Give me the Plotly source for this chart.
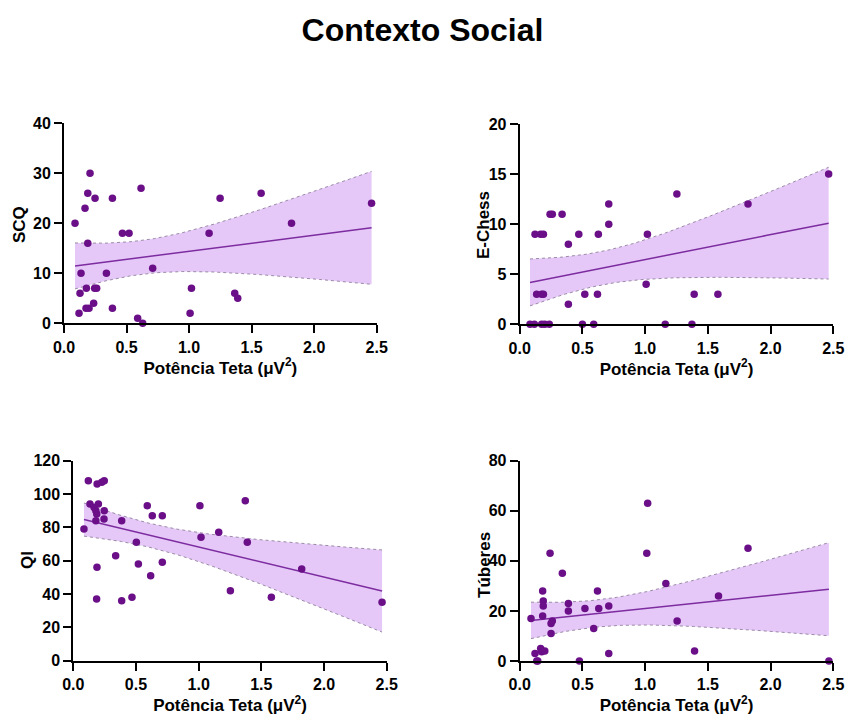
import numpy as np
import plotly.graph_objects as go

# ---------------- data ----------------
scq_x = [0.088, 0.208, 0.19, 0.248, 0.168, 0.387, 0.616, 0.19, 0.467, 0.52,
         0.136, 0.339, 0.709, 0.128, 0.179, 0.245, 0.261, 0.12, 0.176, 0.2,
         0.237, 0.387, 0.589, 0.629, 1.019, 1.008, 1.16, 1.248, 1.576, 1.365,
         1.389, 1.819, 2.459]
scq_y = [20, 30, 26, 25, 23, 25, 27, 16, 18, 18,
         10, 10, 11, 6, 7, 7, 7, 2, 3, 3,
         4, 3, 1, 0, 7, 2, 18, 25, 26, 6,
         5, 20, 24]

echess_x = [0.122, 0.167, 0.189, 0.242, 0.26, 0.338, 0.388, 0.471, 0.627, 0.71,
            0.71, 1.018, 1.008, 1.253, 1.391, 1.58, 1.82, 2.463, 0.135, 0.175,
            0.189, 0.388, 0.519, 0.62, 0.082, 0.117, 0.175, 0.2, 0.236, 0.5,
            0.59, 1.16, 1.373]
echess_y = [9, 9, 9, 11, 11, 11, 8, 9, 9, 12,
            10, 9, 4, 13, 3, 3, 12, 15, 3, 3,
            3, 2, 3, 3, 0, 0, 0, 0, 0, 0,
            0, 0, 0]

qi_x = [0.085, 0.12, 0.19, 0.227, 0.247, 0.133, 0.2, 0.165, 0.18, 0.187,
        0.247, 0.18, 0.245, 0.386, 0.503, 0.338, 0.189, 0.186, 0.386, 0.468,
        0.519, 0.59, 0.63, 0.71, 0.71, 0.617, 1.01, 1.019, 1.16, 1.253,
        1.372, 1.388, 1.58, 1.822, 2.463]
qi_y = [79, 108, 106, 107, 108, 94, 94, 92, 90, 88,
        90, 84, 85, 84, 71, 63, 56, 37, 36, 38,
        58, 93, 87, 87, 59, 51, 93, 74, 77, 42,
        96, 71, 38, 55, 35]

tub_x = [0.09, 0.122, 0.136, 0.144, 0.167, 0.183, 0.188, 0.188, 0.183, 0.175,
         0.2, 0.242, 0.25, 0.26, 0.25, 0.34, 0.388, 0.388, 0.476, 0.52,
         0.59, 0.62, 0.63, 0.71, 0.71, 1.02, 1.013, 1.165, 1.255, 1.394,
         1.585, 1.82, 2.465]
tub_y = [17, 3, 0, 0, 5, 28, 24, 22, 18, 3.7,
         4, 43, 15, 16, 11, 35, 23, 20, 0, 21,
         13, 28, 21, 22, 3, 63, 43, 31, 16, 4,
         26, 45, 0]

x_title = "Potência Teta (μV<sup>2</sup>)"
chart_title = "Contexto Social"
y_titles = ["SCQ", "E-Chess", "QI", "Túberes"]
y_ranges = [[0, 40], [0, 20], [0, 120], [0, 80]]
y_dticks = [10, 5, 20, 20]
x_ticks = [0.0, 0.5, 1.0, 1.5, 2.0, 2.5]

T_CRIT = 2.04  # two-sided 95% t value, ~31-33 df

# ---------------- styling ----------------
W, H = 845, 717
PT = "#6a0f88"
LINE = "#7d2ca0"
FILL = "rgba(229,200,248,1)"
EDGE = "#9a8aa6"
FONT = "Liberation Sans, Arial, sans-serif"

# panel plot areas in pixels: (x_left, x_right, y_top, y_bottom)
panels_px = [
    (64.0, 376.7, 123.3, 323.3),
    (519.7, 833.3, 124.0, 324.3),
    (73.3, 386.7, 460.7, 660.7),
    (519.7, 833.3, 460.7, 661.0),
]
# y-title centres in pixels
ytitle_px = [(19, 225), (483, 225), (27, 560), (484, 565)]

datasets = [(scq_x, scq_y), (echess_x, echess_y), (qi_x, qi_y), (tub_x, tub_y)]

fig = go.Figure()
annotations = []

for i, ((xs, ys), (xl, xr, yt, yb)) in enumerate(zip(datasets, panels_px)):
    n = i + 1
    xa = "x" if n == 1 else f"x{n}"
    ya = "y" if n == 1 else f"y{n}"
    x = np.array(xs, float)
    y = np.array(ys, float)
    N = len(x)
    b, a = np.polyfit(x, y, 1)
    resid = y - (a + b * x)
    s = np.sqrt(np.sum(resid ** 2) / (N - 2))
    mx = x.mean()
    sxx = np.sum((x - mx) ** 2)
    xg = np.linspace(x.min(), x.max(), 120)
    yg = a + b * xg
    se = s * np.sqrt(1.0 / N + (xg - mx) ** 2 / sxx)
    lo = yg - T_CRIT * se
    hi = yg + T_CRIT * se

    fig.add_trace(go.Scatter(x=xg, y=lo, mode="lines", line=dict(color=EDGE, width=1, dash="dot"),
                             xaxis=xa, yaxis=ya, showlegend=False, hoverinfo="skip"))
    fig.add_trace(go.Scatter(x=xg, y=hi, mode="lines", line=dict(color=EDGE, width=1, dash="dot"),
                             fill="tonexty", fillcolor=FILL,
                             xaxis=xa, yaxis=ya, showlegend=False, hoverinfo="skip"))
    fig.add_trace(go.Scatter(x=xg, y=yg, mode="lines", line=dict(color=LINE, width=1.5),
                             xaxis=xa, yaxis=ya, showlegend=False, hoverinfo="skip"))
    fig.add_trace(go.Scatter(x=x, y=y, mode="markers",
                             marker=dict(color=PT, size=7.5, line=dict(width=0)),
                             xaxis=xa, yaxis=ya, showlegend=False, cliponaxis=False))

    xdom = [xl / W, xr / W]
    ydom = [(H - yb) / H, (H - yt) / H]
    axis_common = dict(showline=True, linecolor="black", linewidth=2, ticks="outside",
                       ticklen=8, tickwidth=2, tickcolor="black", showgrid=False,
                       zeroline=False, automargin=False,
                       tickfont=dict(family=FONT, size=16, color="black", weight="bold"),
                       title_font=dict(family=FONT, size=17, color="black", weight="bold"))
    xkey = "xaxis" if n == 1 else f"xaxis{n}"
    ykey = "yaxis" if n == 1 else f"yaxis{n}"
    fig.update_layout({
        xkey: dict(domain=xdom, range=[0, 2.5], tickvals=x_ticks,
                   ticktext=[f"{v:.1f}" for v in x_ticks], anchor=ya,
                   title=dict(text=x_title, standoff=7), **axis_common),
        ykey: dict(domain=ydom, range=y_ranges[i], dtick=y_dticks[i], tick0=0, anchor=xa,
                   **axis_common),
    })
    tx, ty = ytitle_px[i]
    annotations.append(dict(text=y_titles[i], x=tx / W, y=(H - ty) / H, xref="paper", yref="paper",
                            xanchor="center", yanchor="middle", textangle=-90, showarrow=False,
                            font=dict(family=FONT, size=17, color="black", weight="bold")))

fig.update_layout(
    width=W, height=H,
    margin=dict(l=0, r=0, t=0, b=0),
    paper_bgcolor="white", plot_bgcolor="white",
    template="none",
    title=dict(text=chart_title, x=0.5, xanchor="center", y=1 - 30 / H, yanchor="middle",
               yref="container",
               font=dict(family=FONT, size=32, color="black", weight="bold")),
    annotations=annotations,
    showlegend=False,
)

fig.write_html("out.html", config={"displayModeBar": False},
               post_script="document.body.style.margin='0';")
